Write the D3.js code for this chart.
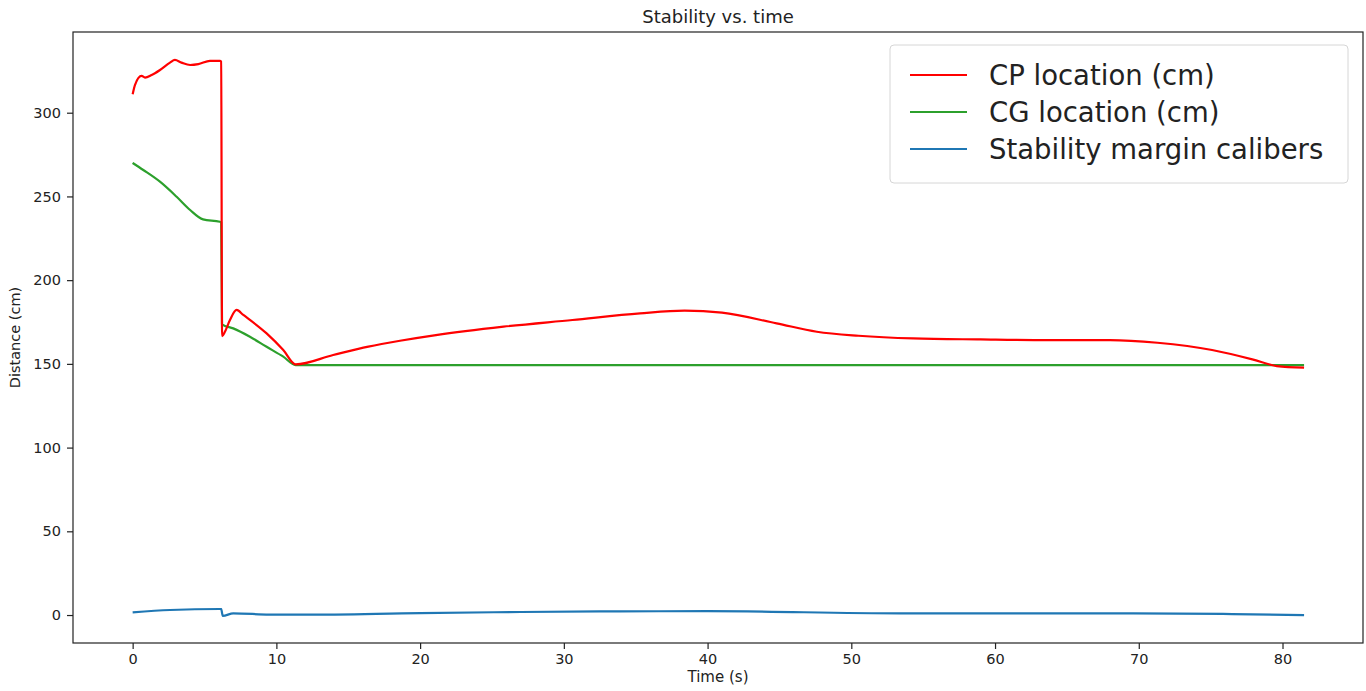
<!DOCTYPE html>
<html>
<head>
<meta charset="utf-8">
<script src="https://cdn.jsdelivr.net/npm/d3@7"></script>
<style>
  body { margin: 0; background: #fff; }
  text { font-family: 'DejaVu Sans', sans-serif; fill: #222; }
</style>
</head>
<body>
<div id="app"></div>
<script>
// CP location (cm)
const cpTime = [0, 0.16, 0.62, 0.86, 1.32, 1.9, 2.6, 2.94, 3.4, 4.0, 4.57, 5.38, 6.07, 6.16, 6.22, 6.42, 6.77, 7.23, 7.7, 9.32, 10.48, 11.34, 13.95, 16.4, 18.6, 21.1, 25.8, 30.6, 35.3, 38.4, 41.0, 44.8, 47.6, 50.5, 54.3, 59.0, 63.7, 68.0, 71.3, 75.1, 77.9, 79.6, 81.5];
const cpValues = [311, 316.5, 322, 321, 322.5, 325.5, 329.9, 331.5, 329.9, 328.5, 329, 331, 331, 330.5, 166.6, 169.2, 176.2, 182.2, 179.2, 168.2, 158.3, 149.7, 155.3, 160.3, 163.8, 167.2, 172.2, 176.2, 180.2, 181.8, 180.6, 174.2, 169.2, 166.8, 165.2, 164.6, 164.2, 164.2, 162.6, 158.3, 152.7, 148.7, 147.7];

// CG location (cm)
const cgTime = [0, 0.74, 1.9, 3.06, 4.0, 4.9, 6.07, 6.16, 6.22, 7.0, 8.16, 9.32, 10.48, 11.34, 81.5];
const cgValues = [270, 265.8, 258.8, 249.8, 241.9, 236.3, 234.9, 234.5, 173.6, 171.2, 166.2, 160.2, 154.3, 149.3, 149.3];

// Stability margin calibers
const smTime = [0, 2.6, 6.07, 6.16, 6.27, 7.0, 9.5, 12, 20, 27, 33.9, 40, 53.4, 69.6, 76.5, 81.5];
const smValues = [1.6, 3.0, 3.6, 3.5, -0.5, 1.0, 0.3, 0.2, 1.2, 1.8, 2.2, 2.3, 1.0, 1.0, 0.6, 0];

const xTicks = [0, 10, 20, 30, 40, 50, 60, 70, 80];
const yTicks = [0, 50, 100, 150, 200, 250, 300];
const seriesNames = ['CP location (cm)', 'CG location (cm)', 'Stability margin calibers'];
const seriesColors = ['#ff0000', '#2ca02c', '#1f77b4'];

const width = 1366;
const height = 691;
const plotLeft = 73, plotRight = 1363, plotTop = 32, plotBottom = 643;

const svg = d3.select('#app')
  .append('svg')
  .attr('width', width)
  .attr('height', height);

const x = d3.scaleLinear()
  .domain([-4.15, 85.6])
  .range([plotLeft, plotRight]);

const y = d3.scaleLinear()
  .domain([-16.7, 348.2])
  .range([plotBottom, plotTop]);

const series = [
  cpTime.map((t, i) => [t, cpValues[i]]),
  cgTime.map((t, i) => [t, cgValues[i]]),
  smTime.map((t, i) => [t, smValues[i]])
];

const line = d3.line()
  .x(d => x(d[0]))
  .y(d => y(d[1]))
  .curve(d3.curveMonotoneX);

// lines, drawn in reverse so red sits on top like the picture
svg.append('g')
  .selectAll('path')
  .data(series.map((s, i) => ({ s, i })).reverse())
  .join('path')
  .attr('d', d => line(d.s))
  .attr('fill', 'none')
  .attr('stroke', d => seriesColors[d.i])
  .attr('stroke-width', 2.2)
  .attr('stroke-linejoin', 'round');

// axes
const xAxis = svg.append('g')
  .attr('transform', `translate(0,${plotBottom})`)
  .call(d3.axisBottom(x).tickValues(xTicks).tickSize(6).tickPadding(5).tickSizeOuter(0));

const yAxis = svg.append('g')
  .attr('transform', `translate(${plotLeft},0)`)
  .call(d3.axisLeft(y).tickValues(yTicks).tickSize(6).tickPadding(6).tickSizeOuter(0));

[xAxis, yAxis].forEach(a => {
  a.select('.domain').remove();
  a.selectAll('line').attr('stroke', '#222').attr('stroke-width', 1.2);
  a.selectAll('text')
    .attr('font-family', 'DejaVu Sans')
    .attr('font-size', 14.5)
    .attr('fill', '#222');
});

// frame
svg.append('rect')
  .attr('x', plotLeft)
  .attr('y', plotTop)
  .attr('width', plotRight - plotLeft)
  .attr('height', plotBottom - plotTop)
  .attr('fill', 'none')
  .attr('stroke', '#222')
  .attr('stroke-width', 1.2);

svg.append('text')
  .attr('x', (plotLeft + plotRight) / 2)
  .attr('y', 23)
  .attr('text-anchor', 'middle')
  .attr('font-size', 18)
  .text('Stability vs. time');

svg.append('text')
  .attr('x', (plotLeft + plotRight) / 2)
  .attr('y', 682)
  .attr('text-anchor', 'middle')
  .attr('font-size', 15)
  .text('Time (s)');

svg.append('text')
  .attr('transform', `translate(20,${(plotTop + plotBottom) / 2}) rotate(-90)`)
  .attr('text-anchor', 'middle')
  .attr('font-size', 14.5)
  .text('Distance (cm)');

// legend
const legend = svg.append('g');

legend.append('rect')
  .attr('x', 890)
  .attr('y', 45)
  .attr('width', 458)
  .attr('height', 138)
  .attr('rx', 4)
  .attr('fill', '#fff')
  .attr('fill-opacity', 0.8)
  .attr('stroke', '#d6d6d6');

const rows = legend.selectAll('g.row')
  .data(seriesNames)
  .join('g')
  .attr('class', 'row')
  .attr('transform', (d, i) => `translate(0,${75 + i * 37})`);

rows.append('line')
  .attr('x1', 910)
  .attr('x2', 967)
  .attr('stroke', (d, i) => seriesColors[i])
  .attr('stroke-width', 2.2);

rows.append('text')
  .attr('x', 989)
  .attr('dy', '0.36em')
  .attr('font-size', 27.5)
  .text(d => d);
</script>
</body>
</html>
